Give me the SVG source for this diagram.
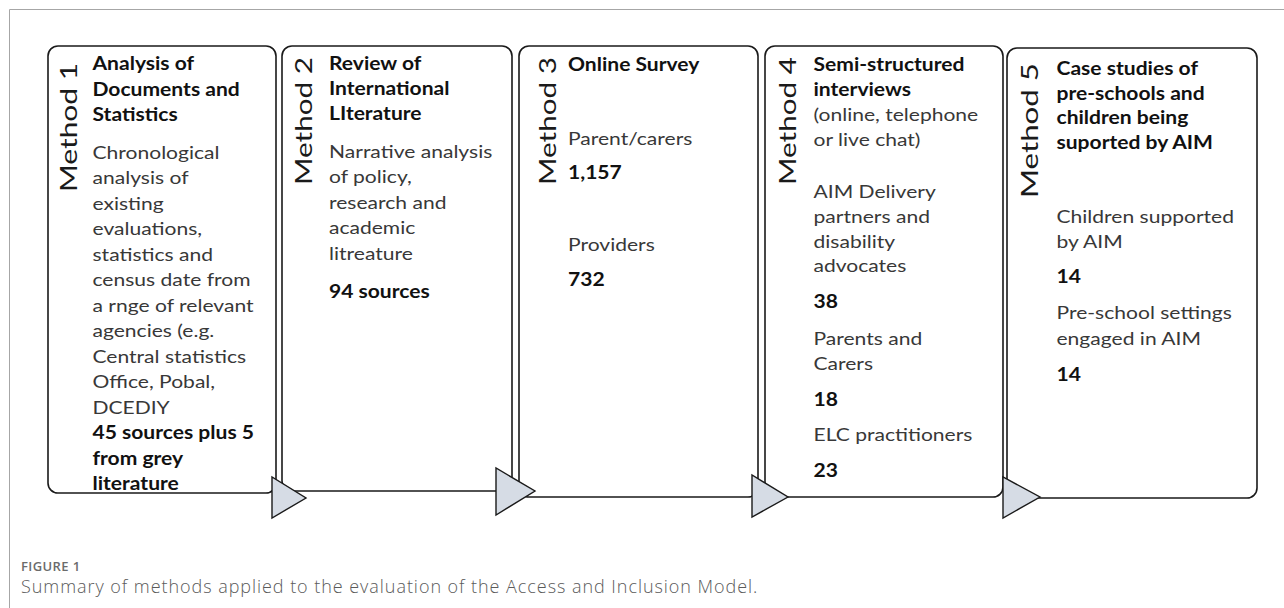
<svg xmlns="http://www.w3.org/2000/svg" width="1284" height="608" viewBox="0 0 1284 608">
  <style>
    .frame { fill: none; stroke: #a6a6a6; stroke-width: 1; }
    .box { fill: #ffffff; stroke: #1a1a1a; stroke-width: 1.6; }
    .arrow { fill: #d6dce5; stroke: #1a1a1a; stroke-width: 1.4; stroke-linejoin: miter; }
    .method { font-family: Lato, "Liberation Sans", sans-serif; font-size: 23px; fill: #1a1a1a; }
    .hd { font-family: Lato, "Liberation Sans", sans-serif; font-size: 18px; font-weight: bold; fill: #111111; }
    .tx { font-family: Lato, "Liberation Sans", sans-serif; font-size: 18px; fill: #383838; }
    .fig { font-family: "Open Sans", "Liberation Sans", sans-serif; font-size: 13px; font-weight: 600; letter-spacing: 0.4px; fill: #6b6b6b; }
    .cap { font-family: "Open Sans", "Liberation Sans", sans-serif; font-size: 18px; font-weight: 300; letter-spacing: 0.95px; fill: #5a5a5a; }
  </style>

  <rect width="1284" height="608" fill="#ffffff"/>
  <path class="frame" d="M9.5 608 V9.5 H1284"/>

  <!-- Method 1 -->
  <g id="method1">
    <rect class="box" x="48" y="46" width="228" height="447" rx="10"/>
    <text class="method" transform="translate(76.5,192) rotate(-90)" textLength="129" lengthAdjust="spacingAndGlyphs">Method 1</text>
    <g transform="translate(92.5,0) scale(1.17,1)">
      <text class="hd" x="0" y="70">Analysis of</text>
      <text class="hd" x="0" y="96">Documents and</text>
      <text class="hd" x="0" y="121">Statistics</text>
      <text class="tx" x="0" y="159">Chronological</text>
      <text class="tx" x="0" y="184.5">analysis of</text>
      <text class="tx" x="0" y="210">existing</text>
      <text class="tx" x="0" y="235.5">evaluations,</text>
      <text class="tx" x="0" y="261">statistics and</text>
      <text class="tx" x="0" y="286.5">census date from</text>
      <text class="tx" x="0" y="312">a rnge of relevant</text>
      <text class="tx" x="0" y="337.5">agencies (e.g.</text>
      <text class="tx" x="0" y="363">Central statistics</text>
      <text class="tx" x="0" y="388.5">Office, Pobal,</text>
      <text class="tx" x="0" y="414">DCEDIY</text>
      <text class="hd" x="0" y="439.5">45 sources plus 5</text>
      <text class="hd" x="0" y="465">from grey</text>
      <text class="hd" x="0" y="490.5">literature</text>
    </g>
  </g>

  <!-- Method 2 -->
  <g id="method2">
    <rect class="box" x="282" y="46" width="230" height="445" rx="10"/>
    <text class="method" transform="translate(312,185) rotate(-90)" textLength="128" lengthAdjust="spacingAndGlyphs">Method 2</text>
    <g transform="translate(329,0) scale(1.17,1)">
      <text class="hd" x="0" y="70">Review of</text>
      <text class="hd" x="0" y="95">International</text>
      <text class="hd" x="0" y="120">LIterature</text>
      <text class="tx" x="0" y="158">Narrative analysis</text>
      <text class="tx" x="0" y="183.5">of policy,</text>
      <text class="tx" x="0" y="209">research and</text>
      <text class="tx" x="0" y="234.5">academic</text>
      <text class="tx" x="0" y="260">litreature</text>
      <text class="hd" x="0" y="298">94 sources</text>
    </g>
  </g>

  <!-- Method 3 -->
  <g id="method3">
    <rect class="box" x="519" y="46" width="239" height="451" rx="10"/>
    <text class="method" transform="translate(555.5,185) rotate(-90)" textLength="128" lengthAdjust="spacingAndGlyphs">Method 3</text>
    <g transform="translate(568,0) scale(1.17,1)">
      <text class="hd" x="0" y="71">Online Survey</text>
      <text class="tx" x="0" y="145">Parent/carers</text>
      <text class="hd" x="0" y="179">1,157</text>
      <text class="tx" x="0" y="251.5">Providers</text>
      <text class="hd" x="0" y="286.5">732</text>
    </g>
  </g>

  <!-- Method 4 -->
  <g id="method4">
    <rect class="box" x="765" y="46" width="238" height="451" rx="10"/>
    <text class="method" transform="translate(795.5,185) rotate(-90)" textLength="128" lengthAdjust="spacingAndGlyphs">Method 4</text>
    <g transform="translate(813.5,0) scale(1.17,1)">
      <text class="hd" x="0" y="71.5">Semi-structured</text>
      <text class="hd" x="0" y="96.5">interviews</text>
      <text class="tx" x="0" y="121.5">(online, telephone</text>
      <text class="tx" x="0" y="146.5">or live chat)</text>
      <text class="tx" x="0" y="198">AIM Delivery</text>
      <text class="tx" x="0" y="223">partners and</text>
      <text class="tx" x="0" y="248">disability</text>
      <text class="tx" x="0" y="272.5">advocates</text>
      <text class="hd" x="0" y="308">38</text>
      <text class="tx" x="0" y="345">Parents and</text>
      <text class="tx" x="0" y="370">Carers</text>
      <text class="hd" x="0" y="406">18</text>
      <text class="tx" x="0" y="441.5">ELC practitioners</text>
      <text class="hd" x="0" y="477">23</text>
    </g>
  </g>

  <!-- Method 5 -->
  <g id="method5">
    <rect class="box" x="1007" y="48" width="250" height="450" rx="10"/>
    <text class="method" transform="translate(1038,198) rotate(-90)" textLength="135" lengthAdjust="spacingAndGlyphs">Method 5</text>
    <g transform="translate(1056.5,0) scale(1.17,1)">
      <text class="hd" x="0" y="75">Case studies of</text>
      <text class="hd" x="0" y="100">pre-schools and</text>
      <text class="hd" x="0" y="124.5">children being</text>
      <text class="hd" x="0" y="149.5">suported by AIM</text>
      <text class="tx" x="0" y="223">Children supported</text>
      <text class="tx" x="0" y="248">by AIM</text>
      <text class="hd" x="0" y="283">14</text>
      <text class="tx" x="0" y="319">Pre-school settings</text>
      <text class="tx" x="0" y="345">engaged in AIM</text>
      <text class="hd" x="0" y="381">14</text>
    </g>
  </g>

  <!-- Connectors: triangular flow markers between methods -->
  <g id="connectors">
    <polygon class="arrow" points="272,477 272,518 306,498"/>
    <polygon class="arrow" points="496,468 496,515 535,491"/>
    <polygon class="arrow" points="752,475 752,517 788,497"/>
    <polygon class="arrow" points="1003,477 1003,518 1040,497"/>
  </g>

  <!-- Caption -->
  <text class="fig" x="21" y="571">FIGURE 1</text>
  <text class="cap" x="21" y="593">Summary of methods applied to the evaluation of the Access and Inclusion Model.</text>
</svg>
